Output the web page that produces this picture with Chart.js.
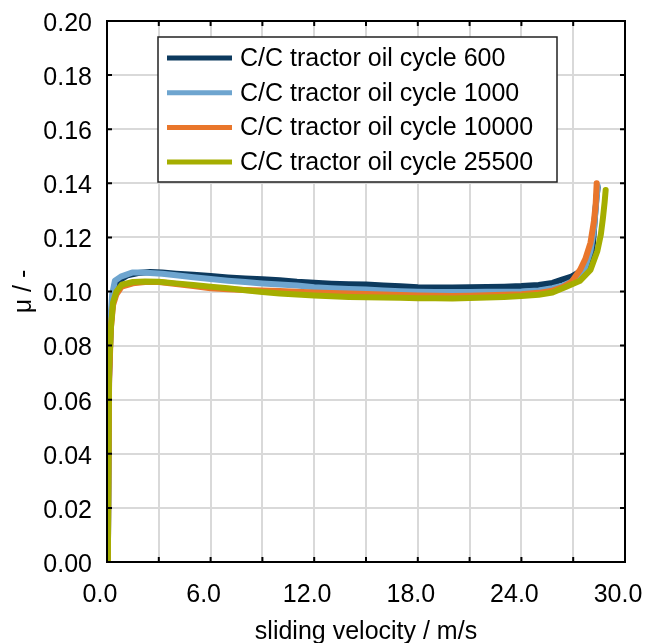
<!DOCTYPE html>
<html>
<head>
<meta charset="utf-8">
<script src="https://cdn.jsdelivr.net/npm/chart.js@4/dist/chart.umd.min.js"></script>
<style>
  html, body { margin: 0; padding: 0; background: #fff; }
  canvas { display: block; }
</style>
</head>
<body>
<canvas id="friction" width="645" height="643"></canvas>
<script>
// friction coefficient over sliding velocity, C/C tractor oil, four cycles

var seriesNames = ['C/C tractor oil cycle 600', 'C/C tractor oil cycle 1000',
                   'C/C tractor oil cycle 10000', 'C/C tractor oil cycle 25500'];
var seriesColors = ['#0d3a5e', '#6ea5cf', '#e9762b', '#a5ae00'];

var velocity600 = [0.05, 0.12, 0.22, 0.35, 0.5, 0.8, 1.2, 1.8, 2.5, 3.2, 4, 5, 6, 7, 8, 9, 10, 11, 12, 13, 14, 15, 16, 17, 18, 19, 20, 21, 22, 23, 24, 25, 25.8, 26.4, 26.9, 27.3, 27.7, 28.0, 28.15, 28.25, 28.35, 28.42];
var mu600       = [0, 0.068, 0.088, 0.097, 0.1015, 0.1045, 0.106, 0.1068, 0.1072, 0.107, 0.1066, 0.1062, 0.1057, 0.1052, 0.1048, 0.1045, 0.1042, 0.1036, 0.1032, 0.1029, 0.1027, 0.1026, 0.1022, 0.1019, 0.1016, 0.1015, 0.1015, 0.1016, 0.1017, 0.1018, 0.102, 0.1024, 0.1032, 0.1045, 0.1055, 0.107, 0.1085, 0.111, 0.118, 0.127, 0.135, 0.1385];

var velocity1000 = [0.05, 0.12, 0.2, 0.3, 0.46, 0.8, 1.45, 2.0, 2.5, 3.2, 4, 5, 6, 7, 8, 9, 10, 11, 12, 13, 14, 15, 16, 17, 18, 19, 20, 21, 22, 23, 24, 25, 25.8, 26.4, 26.9, 27.3, 27.7, 28.0, 28.2, 28.32, 28.42];
var mu1000       = [0, 0.07, 0.09, 0.099, 0.104, 0.1055, 0.107, 0.107, 0.1068, 0.1066, 0.106, 0.1053, 0.1046, 0.104, 0.1035, 0.103, 0.1026, 0.1022, 0.1016, 0.1012, 0.1009, 0.1007, 0.1004, 0.1001, 0.0999, 0.0998, 0.0998, 0.0998, 0.0999, 0.0999, 0.1, 0.1004, 0.1012, 0.1022, 0.1036, 0.1058, 0.109, 0.115, 0.123, 0.132, 0.139];

var velocity10000 = [0.05, 0.12, 0.22, 0.35, 0.55, 0.85, 1.5, 2.2, 3, 4, 5, 6, 7, 8, 9, 10, 11, 12, 13, 14, 15, 16, 17, 18, 19, 20, 21, 22, 23, 24, 25, 25.8, 26.4, 26.9, 27.4, 27.7, 28.0, 28.2, 28.3, 28.36];
var mu10000       = [0, 0.066, 0.086, 0.095, 0.099, 0.1018, 0.103, 0.1035, 0.1035, 0.1028, 0.102, 0.1012, 0.1008, 0.1006, 0.1004, 0.1002, 0.0999, 0.0996, 0.0994, 0.0993, 0.0991, 0.0989, 0.0987, 0.0985, 0.0984, 0.0983, 0.0984, 0.0986, 0.0988, 0.099, 0.0995, 0.1003, 0.1016, 0.1035, 0.108, 0.112, 0.118, 0.126, 0.132, 0.140];

var velocity25500 = [0.05, 0.12, 0.23, 0.35, 0.55, 0.85, 1.5, 2.2, 3, 4, 5, 6, 7, 8, 9, 10, 11, 12, 13, 14, 15, 16, 17, 18, 19, 20, 21, 22, 23, 24, 25, 25.8, 26.6, 27.4, 28.0, 28.4, 28.6, 28.72, 28.82, 28.88];
var mu25500       = [0, 0.071, 0.087, 0.096, 0.1, 0.1025, 0.1035, 0.1037, 0.1036, 0.103, 0.1024, 0.1018, 0.1012, 0.1005, 0.0998, 0.0993, 0.0989, 0.0985, 0.0982, 0.098, 0.0979, 0.0978, 0.0977, 0.0975, 0.0975, 0.0974, 0.0976, 0.0978, 0.098, 0.0983, 0.0988, 0.0996, 0.1018, 0.104, 0.108, 0.115, 0.121, 0.127, 0.133, 0.1375];

var xTickStep = 3;      // grid every 3, label every 6
var yTickStep = 0.02;

var velocities = [velocity600, velocity1000, velocity10000, velocity25500];
var mus = [mu600, mu1000, mu10000, mu25500];

Chart.defaults.font.family = '"Liberation Sans", Arial, sans-serif';
Chart.defaults.color = '#000';

var datasets = seriesNames.map(function (name, i) {
  return {
    label: name,
    data: velocities[i].map(function (v, j) { return { x: v, y: mus[i][j] }; }),
    borderColor: seriesColors[i],
    backgroundColor: seriesColors[i],
    borderWidth: 6,
    pointRadius: 0,
    tension: 0,
    fill: false,
    borderJoinStyle: 'round',
    borderCapStyle: 'round',
    order: seriesNames.length - i   // later cycles on top
  };
});

// frame with inward ticks on all four sides + boxed legend
var framePlugin = {
  id: 'frame',
  afterDatasetsDraw: function (chart) {
    var ctx = chart.ctx;
    var a = chart.chartArea;
    var xs = chart.scales.x, ys = chart.scales.y;
    ctx.save();

    // legend box
    var bx = 158, by = 37, bw = 399, bh = 145;
    ctx.fillStyle = '#fff';
    ctx.fillRect(bx, by, bw, bh);
    ctx.strokeStyle = '#222';
    ctx.lineWidth = 1.5;
    ctx.strokeRect(bx, by, bw, bh);
    ctx.font = '25px "Liberation Sans", Arial, sans-serif';
    ctx.textBaseline = 'middle';
    ctx.textAlign = 'left';
    for (var i = 0; i < seriesNames.length; i++) {
      var ry = 58 + i * 34.7;
      ctx.strokeStyle = seriesColors[i];
      ctx.lineWidth = 5;
      ctx.beginPath();
      ctx.moveTo(167, ry);
      ctx.lineTo(232, ry);
      ctx.stroke();
      ctx.fillStyle = '#000';
      ctx.fillText(seriesNames[i], 240, ry + 1);
    }

    // ticks
    ctx.strokeStyle = '#000';
    ctx.lineWidth = 2;
    ctx.beginPath();
    xs.ticks.forEach(function (t) {
      var px = xs.getPixelForValue(t.value);
      ctx.moveTo(px, a.bottom); ctx.lineTo(px, a.bottom - 5);
      ctx.moveTo(px, a.top); ctx.lineTo(px, a.top + 5);
    });
    ys.ticks.forEach(function (t) {
      var py = ys.getPixelForValue(t.value);
      ctx.moveTo(a.left, py); ctx.lineTo(a.left + 5, py);
      ctx.moveTo(a.right, py); ctx.lineTo(a.right - 5, py);
    });
    ctx.stroke();

    ctx.lineWidth = 2;
    ctx.strokeRect(a.left, a.top, a.right - a.left, a.bottom - a.top);
    ctx.restore();
  }
};

new Chart(document.getElementById('friction').getContext('2d'), {
  type: 'line',
  data: { datasets: datasets },
  options: {
    responsive: false,
    animation: false,
    layout: { padding: { left: 0, right: 20, top: 21, bottom: 0 } },
    plugins: {
      legend: { display: false },
      tooltip: { enabled: false }
    },
    scales: {
      x: {
        type: 'linear',
        min: 0,
        max: 30,
        afterFit: function (scale) {
          scale.height = 81;
          scale.paddingLeft = 0;
          scale.paddingRight = 0;
        },
        border: { display: false },
        grid: { color: '#d9d9d9', lineWidth: 2, drawTicks: false },
        ticks: {
          stepSize: xTickStep,
          autoSkip: false,
          maxRotation: 0,
          padding: 18,
          labelOffset: -7,
          font: { size: 25 },
          callback: function (v) { return Math.round(v) % 6 === 0 ? v.toFixed(1) : ''; }
        },
        title: {
          display: true,
          text: 'sliding velocity / m/s',
          font: { size: 25, lineHeight: 0.9 },
          padding: { top: 0, bottom: 0 }
        }
      },
      y: {
        min: 0,
        max: 0.2,
        afterFit: function (scale) {
          scale.width = 107;
          scale.paddingTop = 0;
          scale.paddingBottom = 0;
        },
        border: { display: false },
        grid: { color: '#d9d9d9', lineWidth: 2, drawTicks: false },
        ticks: {
          stepSize: yTickStep,
          autoSkip: false,
          padding: 15,
          labelOffset: 3,
          font: { size: 25 },
          callback: function (v) { return v.toFixed(2); }
        },
        title: {
          display: true,
          text: 'μ / -',
          font: { size: 25 },
          padding: { top: 9, bottom: 0 }
        }
      }
    }
  },
  plugins: [framePlugin]
});
</script>
</body>
</html>
